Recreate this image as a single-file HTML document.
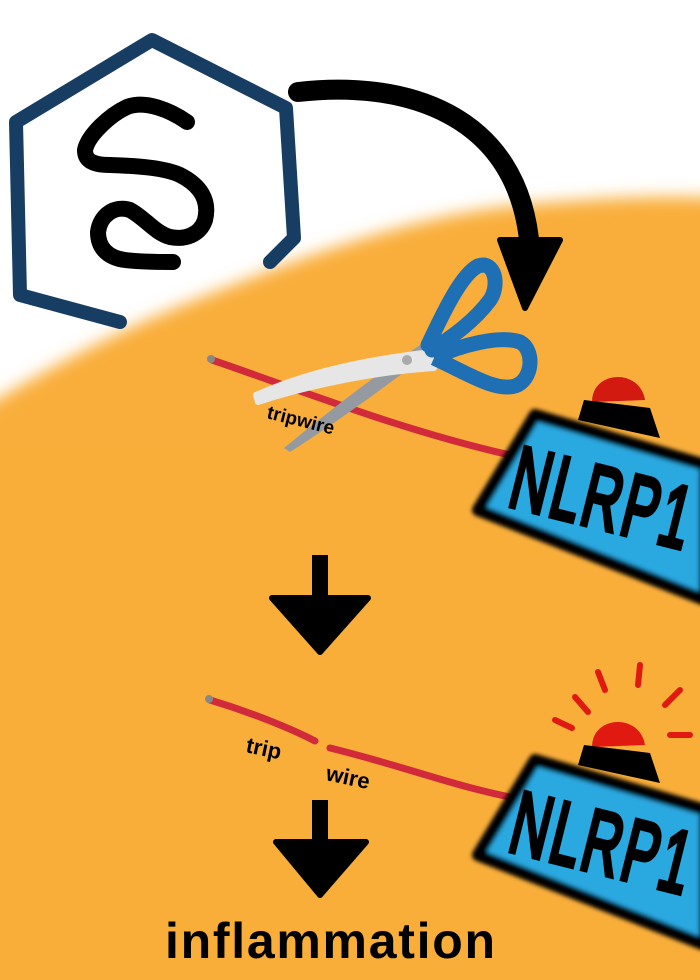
<!DOCTYPE html>
<html><head><meta charset="utf-8"><style>
html,body{margin:0;padding:0;background:#fff;width:700px;height:980px;overflow:hidden}
</style></head><body>
<svg width="700" height="980" viewBox="0 0 700 980" xmlns="http://www.w3.org/2000/svg">
<defs>
<filter id="blur" x="-10%" y="-10%" width="120%" height="120%"><feGaussianBlur stdDeviation="8"/></filter>
<filter id="b2"><feGaussianBlur stdDeviation="2"/></filter>
</defs>
<rect width="700" height="980" fill="#fff"/>
<path d="M-20,410 C60,360 140,320 220,290 C320,250 420,215 520,205 C600,198 660,195 720,198 L720,1000 L-20,1000 Z" fill="#F9AE3A" filter="url(#blur)"/>
<rect x="0" y="450" width="700" height="530" fill="#F9AE3A"/>

<path d="M270,262 L294,238 L286,108 L152,40 L16,122 L20,295 L120,322" fill="none" stroke="#183d62" stroke-width="14" stroke-linecap="round" stroke-linejoin="round"/>
<path d="M187,122 C170,110 145,100 127,107 C110,115 88,135 85,150 C85,162 95,165 110,165 C140,166 165,168 180,175 C200,185 210,200 205,220 C200,235 185,240 170,237 C155,233 145,218 130,210 C115,205 100,215 98,232 C98,250 110,258 125,260 C140,262 160,262 173,262" fill="none" stroke="#000" stroke-width="16" stroke-linecap="round" stroke-linejoin="round"/>

<path d="M298,92 C400,80 520,110 530,250" fill="none" stroke="#000" stroke-width="20" stroke-linecap="round"/>
<path d="M500,240 L560,240 L525,308 Z" fill="#000" stroke="#000" stroke-width="6" stroke-linejoin="round"/>

<path d="M212,360 C300,390 400,430 510,455" fill="none" stroke="#d12a3a" stroke-width="7" stroke-linecap="round"/>
<circle cx="211" cy="359" r="4" fill="#888"/>
<path d="M284,448 C330,410 380,372 420,345 L430,352 C395,380 340,420 290,452 Z" fill="#949aa0"/>
<path d="M256,395 C300,375 360,360 432,352 L434,368 C370,372 300,388 258,402 Z" fill="#e6e6e6" stroke="#e6e6e6" stroke-width="6" stroke-linejoin="round"/>
<circle cx="407" cy="360" r="5" fill="#aaa"/>
<path d="M428,345 C440,320 460,275 478,266 C495,260 500,285 490,300 C475,320 455,335 432,350" fill="none" stroke="#1f6fb5" stroke-width="15" stroke-linejoin="round" stroke-linecap="round"/>
<path d="M434,358 C460,345 500,335 520,342 C535,350 533,380 515,386 C495,392 465,372 434,358" fill="none" stroke="#1f6fb5" stroke-width="15" stroke-linejoin="round"/>
<text x="266" y="418" font-family="Liberation Sans, sans-serif" font-weight="bold" font-size="19" fill="#000" transform="rotate(14 266 418)">tripwire</text>

<path d="M535,415 L705,465 L705,600 L478,510 Z" fill="#2aa8e0" stroke="#000" stroke-width="12" stroke-linejoin="round" filter="url(#b2)"/>
<g transform="translate(506,505) rotate(14) scale(0.6,1)">
<text x="0" y="0" font-family="Liberation Sans, sans-serif" font-size="88" fill="#000" stroke="#000" stroke-width="5" letter-spacing="5">NLRP1</text>
</g>
<path d="M592,402 C592,370 640,368 645,400 Z" fill="#d21a10"/>
<path d="M584,400 L650,408 L660,438 L578,420 Z" fill="#000"/>

<rect x="312" y="555" width="16" height="45" fill="#000"/>
<path d="M272,598 L368,598 L320,652 Z" fill="#000" stroke="#000" stroke-width="6" stroke-linejoin="round"/>

<path d="M210,700 C250,712 290,728 315,741" fill="none" stroke="#d12a3a" stroke-width="7" stroke-linecap="round"/>
<path d="M330,748 C400,765 450,785 510,797" fill="none" stroke="#d12a3a" stroke-width="7" stroke-linecap="round"/>
<circle cx="209" cy="699" r="4" fill="#888"/>
<text x="245" y="752" font-family="Liberation Sans, sans-serif" font-weight="bold" font-size="22" fill="#000" transform="rotate(12 245 752)">trip</text>
<text x="325" y="780" font-family="Liberation Sans, sans-serif" font-weight="bold" font-size="22" fill="#000" transform="rotate(12 325 780)">wire</text>

<path d="M535,760 L705,810 L705,945 L478,855 Z" fill="#2aa8e0" stroke="#000" stroke-width="12" stroke-linejoin="round" filter="url(#b2)"/>
<g transform="translate(506,850) rotate(14) scale(0.6,1)">
<text x="0" y="0" font-family="Liberation Sans, sans-serif" font-size="88" fill="#000" stroke="#000" stroke-width="5" letter-spacing="5">NLRP1</text>
</g>
<path d="M592,747 C592,715 640,713 645,745 Z" fill="#e01a10"/>
<path d="M584,745 L650,753 L660,783 L578,765 Z" fill="#000"/>
<g stroke="#e01a10" stroke-width="6" stroke-linecap="round">
<line x1="575" y1="697" x2="588" y2="712"/>
<line x1="598" y1="672" x2="605" y2="690"/>
<line x1="640" y1="665" x2="638" y2="685"/>
<line x1="680" y1="690" x2="665" y2="705"/>
<line x1="690" y1="735" x2="670" y2="735"/>
<line x1="555" y1="720" x2="572" y2="728"/>
</g>

<rect x="312" y="800" width="16" height="45" fill="#000"/>
<path d="M276,842 L366,842 L320,895 Z" fill="#000" stroke="#000" stroke-width="6" stroke-linejoin="round"/>

<text x="330" y="958" text-anchor="middle" font-family="Liberation Sans, sans-serif" font-weight="bold" font-size="50" fill="#000" textLength="330">inflammation</text>
</svg>
</body></html>
